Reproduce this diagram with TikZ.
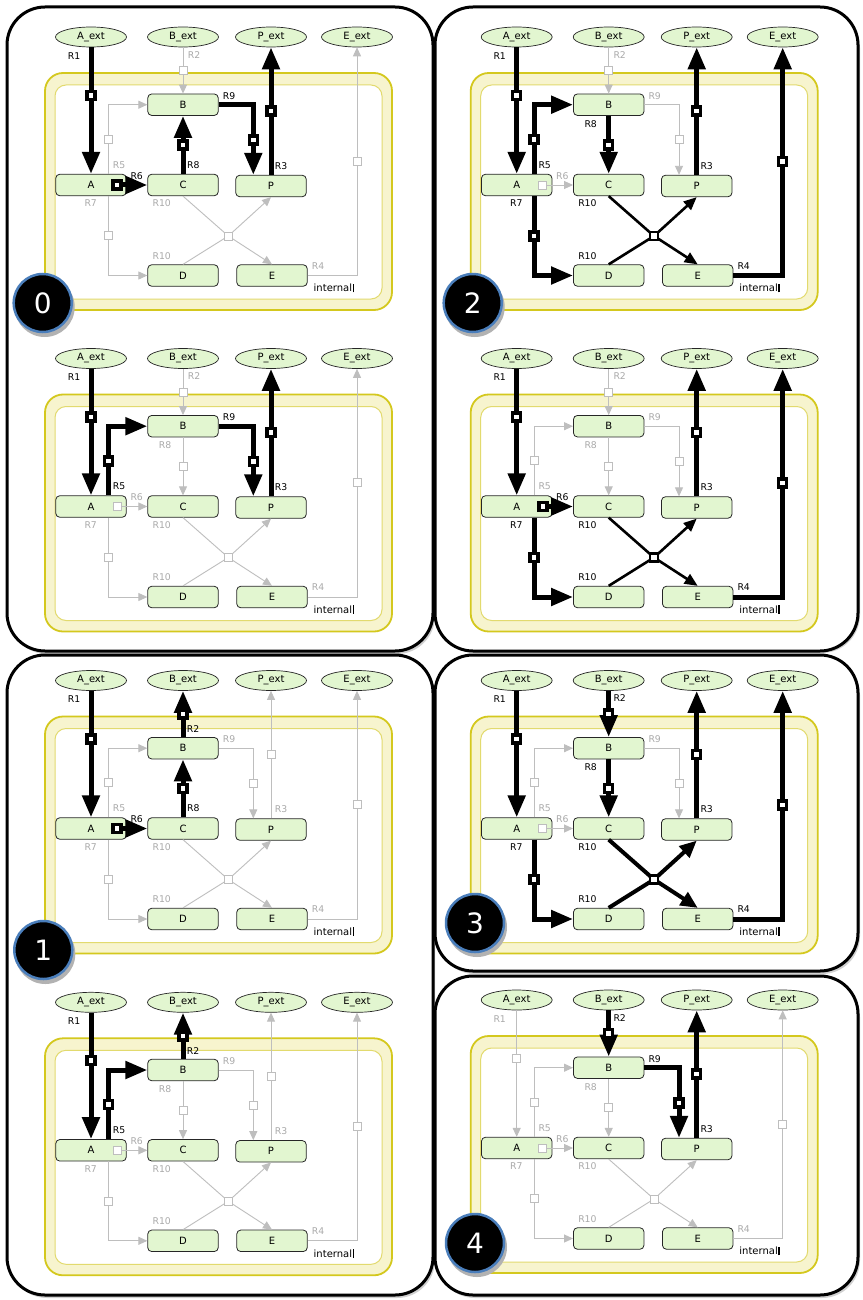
\documentclass[tikz,border=0pt]{standalone}
\usepackage{fontspec}
\setmainfont{DejaVu Sans}
\usetikzlibrary{shapes.geometric, arrows.meta}
\definecolor{lg}{RGB}{190,190,190}
\definecolor{lgt}{RGB}{170,170,170}
\definecolor{nodefill}{RGB}{226,246,208}
\definecolor{ybg}{RGB}{247,244,206}
\definecolor{yol}{RGB}{212,200,30}
\definecolor{yin}{RGB}{226,218,110}
\definecolor{ciblue}{RGB}{74,126,187}
\newcommand\lbfont{\fontsize{9.3}{10}\selectfont}
\newcommand\ndfont{\fontsize{10}{11}\selectfont}
\tikzset{
  offmk/.style={rectangle, draw=lg, fill=white, line width=0.9pt, minimum size=8pt, inner sep=0pt},
  onmk/.style={rectangle, draw=black, fill=white, line width=3.5pt, minimum size=8pt, inner sep=0pt},
  onjm/.style={rectangle, draw=black, fill=white, line width=2.2pt, minimum size=8pt, inner sep=0pt},
  inact/.style={draw=lg, line width=0.9pt, arrows={-Triangle[length=9pt,width=8pt]}, mk/.style={offmk}, jm/.style={offmk}},
  act/.style={draw=black, line width=5pt, arrows={-Triangle[length=22pt,width=17pt]}, mk/.style={onmk}, jm/.style={onjm}},
  actrev/.style={act, arrows={Triangle[length=22pt,width=17pt]-}},
  actthin/.style={act, line width=2.6pt, arrows={-Triangle[length=13pt,width=11pt]}},
  actmid/.style={act, line width=4pt, arrows={-Triangle[length=17pt,width=15pt]}},
  offlab/.style={text=lgt, font=\lbfont, inner sep=0pt},
  onlab/.style={text=black, font=\lbfont, inner sep=0pt},
  r1/.style={inact}, r2/.style={inact}, r3/.style={inact}, r4/.style={inact}, r5/.style={inact},
  r6/.style={inact}, r7/.style={inact}, r8/.style={inact}, r9/.style={inact}, r10/.style={inact},
  l1/.style={offlab}, l3/.style={offlab}, l4/.style={offlab}, l5/.style={offlab},
  l6/.style={offlab}, l7/.style={offlab}, l9/.style={offlab}, l10/.style={offlab},
  l2/.style={offlab, at={(194,55)}},
  l8/.style={offlab, at={(165,124)}},
  R1on/.style={r1/.style={act}, l1/.style={onlab}},
  R2on/.style={r2/.style={act}, l2/.style={onlab, at={(194,55)}}},
  R2rev/.style={r2/.style={actrev}, l2/.style={onlab, at={(193,85.5)}}},
  R3on/.style={r3/.style={act}, l3/.style={onlab}},
  R4on/.style={r4/.style={act}, l4/.style={onlab}},
  R5on/.style={r5/.style={act}, l5/.style={onlab}},
  R6on/.style={r6/.style={act}, l6/.style={onlab}},
  R7on/.style={r7/.style={act}, l7/.style={onlab}},
  R8on/.style={r8/.style={act}, l8/.style={onlab, at={(165,124)}}},
  R8rev/.style={r8/.style={actrev}, l8/.style={onlab, at={(193.3,165)}}},
  R9on/.style={r9/.style={act}, l9/.style={onlab}},
  R10thin/.style={r10/.style={actthin}, l10/.style={onlab}},
  R10mid/.style={r10/.style={actmid}, l10/.style={onlab}},
  ellx/.style={ellipse, draw=black!85, line width=0.7pt, fill=nodefill, minimum width=71pt, minimum height=20pt, inner sep=0pt, font=\ndfont},
  bx/.style={rectangle, rounded corners=4pt, draw=black!85, line width=0.8pt, fill=nodefill, minimum width=70.5pt, minimum height=21.5pt, inner sep=0pt, font=\ndfont},
  inttxt/.style={font=\ndfont, inner sep=0pt},
  panel/.style={draw=black, line width=3pt, fill=white, rounded corners=38pt},
  pshadow/.style={fill=black!18, rounded corners=38pt},
  numc/.style={circle, fill=black, draw=ciblue, line width=2.5pt, minimum size=58pt, inner sep=0pt, text=white, font=\fontsize{28}{30}\selectfont},
}
\newcommand\drawnet{%
  \draw[draw=yol, line width=1.8pt, fill=ybg, rounded corners=18pt] (45,73) rectangle (392,310);
  \draw[draw=yin, line width=1pt, fill=white, rounded corners=11pt] (55,85) rectangle (382,299);
  \node[ellx] (Aext) at (91,37) {A\_ext};
  \node[ellx] (Bext) at (183,37) {B\_ext};
  \node[ellx] (Pext) at (271,37) {P\_ext};
  \node[ellx] (Eext) at (357,37) {E\_ext};
  \node[bx] (A) at (91,185) {A};
  \node[bx] (B) at (183,104.7) {B};
  \node[bx] (C) at (183,185) {C};
  \node[bx] (P) at (271,186) {P};
  \node[bx] (D) at (183,275.5) {D};
  \node[bx] (E) at (272,275.5) {E};
  \node[inttxt] (int) at (334,288) {internal\kern0.6pt\rule[-0.5pt]{1.6pt}{8.5pt}};
  \coordinate (J) at (228.3,236);
  \draw[r1] (Aext.south) -- node[mk,pos=0.38]{} (A.north);
  \draw[r2] (Bext.south) -- node[mk,pos=0.5]{} (B.north);
  \draw[r3] (P.north) -- node[mk,pos=0.5]{} (Pext.south);
  \draw[r4] (E.east) -| node[mk,pos=0.75]{} (Eext.south);
  \draw[r5] ([xshift=17.3pt]A.north) |- node[mk,pos=0.25]{} (B.west);
  \draw[r7] ([xshift=17.3pt]A.south) |- node[mk,pos=0.25]{} (D.west);
  \draw[r8] (B.south) -- node[mk,pos=0.5]{} (C.north);
  \draw[r9] (B.east) -| node[mk,pos=0.75]{} ([xshift=-17.7pt]P.north);
  \draw[r10, arrows=-] (C.south) -- (J);
  \draw[r10, arrows=-] (D.north) -- (J);
  \draw[r10] (J) -- (P.south);
  \draw[r10] (J) -- node[jm,pos=0]{} (E.north);
  \draw[r6] ([xshift=-14pt]A.east) -- node[mk,pos=0.13]{} (C.west);
  \node[l1] (t1) at (74,56) {R1};
  \node[l2] (t2) {R2};
  \node[l3] (t3) at (281,166) {R3};
  \node[l4] (t4) at (318,266) {R4};
  \node[l5] (t5) at (119,165) {R5};
  \node[l6] (t6) at (136.7,175.7) {R6};
  \node[l7] (t7) at (90.7,203.3) {R7};
  \node[l8] (t8) {R8};
  \node[l9] (t9) at (229,95.7) {R9};
  \node[l10] (t10a) at (161.7,203.3) {R10};
  \node[l10] (t10b) at (161.7,256) {R10};
}
\begin{document}
\begin{tikzpicture}[x=1pt, y=-1pt]
\useasboundingbox (0,0) rectangle (862,1300);
% shadows
\fill[pshadow] (9,10) rectangle (435,654);
\fill[pshadow] (437,10) rectangle (860,653);
\fill[pshadow] (9,657) rectangle (435,1298);
\fill[pshadow] (437,657) rectangle (860,974);
\fill[pshadow] (437,979) rectangle (860,1298);
% panels
\draw[panel] (7,7) rectangle (433,651);
\draw[panel] (435,7) rectangle (858,651);
\draw[panel] (7,655) rectangle (433,1295);
\draw[panel] (435,655) rectangle (858,971);
\draw[panel] (435,976) rectangle (858,1295);
% diagrams
\begin{scope}[shift={(0,0)}, name prefix=a-, R1on, R3on, R6on, R8rev, R9on]\drawnet\end{scope}
\begin{scope}[shift={(0,321.5)}, name prefix=b-, R1on, R3on, R5on, R9on]\drawnet\end{scope}
\begin{scope}[shift={(425.7,0)}, name prefix=c-, R1on, R3on, R4on, R5on, R7on, R8on, R10thin]\drawnet\end{scope}
\begin{scope}[shift={(425.7,321.5)}, name prefix=d-, R1on, R3on, R4on, R6on, R7on, R10thin]\drawnet\end{scope}
\begin{scope}[shift={(0,643.5)}, name prefix=e-, R1on, R2rev, R6on, R8rev]\drawnet\end{scope}
\begin{scope}[shift={(0,965.3)}, name prefix=f-, R1on, R2rev, R5on]\drawnet\end{scope}
\begin{scope}[shift={(425.7,643.5)}, name prefix=g-, R1on, R2on, R3on, R4on, R7on, R8on, R10mid]\drawnet\end{scope}
\begin{scope}[shift={(425.7,963)}, name prefix=h-, R2on, R3on, R9on]\drawnet\end{scope}
% number badges
\foreach \cx/\cy/\n in {42.7/303/0, 43.3/950/1, 472.7/303/2, 475/923/3, 475/1243/4}{
  \fill[black!30] (\cx+2,\cy+4) circle[radius=30pt];
  \node[numc] (num\n) at (\cx,\cy) {\n};
}
\end{tikzpicture}
\end{document}
